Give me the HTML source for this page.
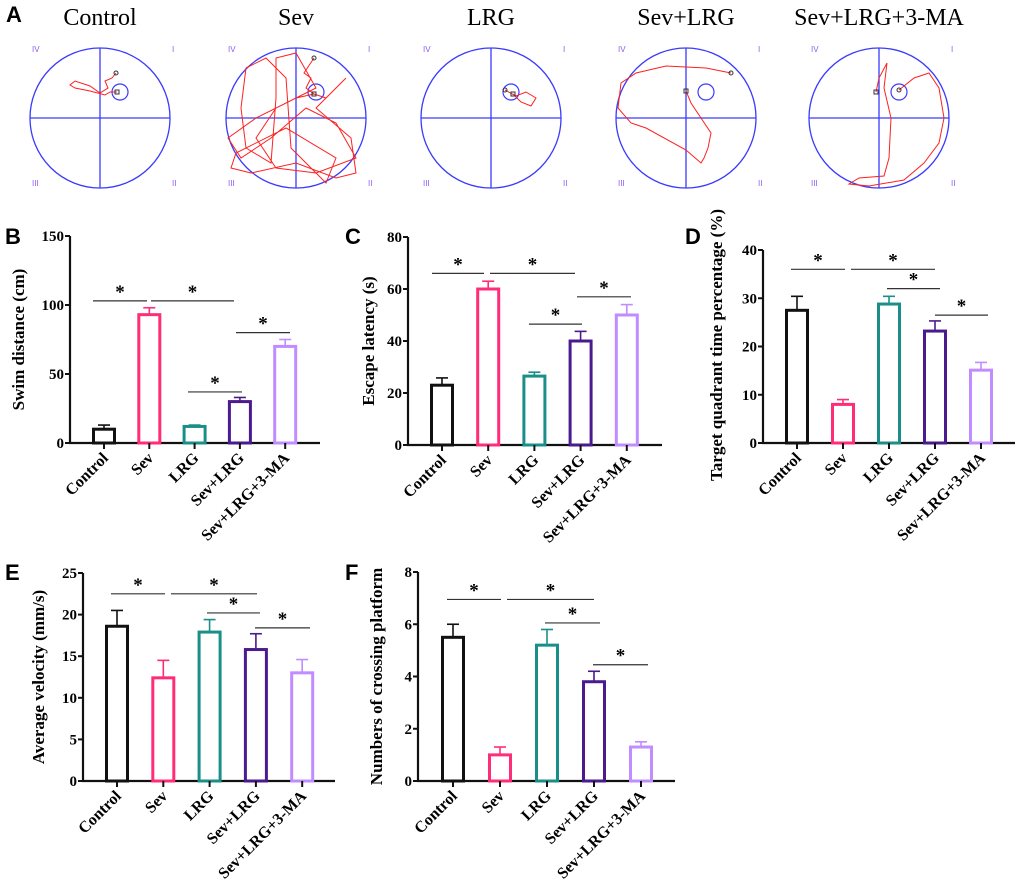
<!DOCTYPE html>
<html><head><meta charset="utf-8"><style>
body{margin:0;background:#fff;}
svg{display:block;font-family:"Liberation Serif",serif;}
</style></head><body>
<svg id="fig" width="1020" height="896" viewBox="0 0 1020 896"></svg>
<script>
const categories=["Control","Sev","LRG","Sev+LRG","Sev+LRG+3-MA"];
const colors=["#111111","#ff2d78","#1a8f8a","#4b1a8f","#c08cff"];
const swimVals=[10,93,12,30,70];
const swimErr=[13,98,13,33,75];
const swimTicks=[0,50,100,150];
const escVals=[23,60,26.5,40,50];
const escErr=[25.8,63,28,43.7,54];
const escTicks=[0,20,40,60,80];
const tqVals=[27.5,8,28.8,23.2,15.1];
const tqErr=[30.4,9,30.4,25.3,16.7];
const tqTicks=[0,10,20,30,40];
const velVals=[18.6,12.4,17.9,15.8,13];
const velErr=[20.5,14.5,19.4,17.7,14.6];
const velTicks=[0,5,10,15,20,25];
const crossVals=[5.5,1,5.2,3.8,1.3];
const crossErr=[6,1.3,5.8,4.2,1.5];
const crossTicks=[0,2,4,6,8];

const NS="http://www.w3.org/2000/svg";
const svg=document.getElementById('fig');
function mk(tag,attrs,parent,text){const e=document.createElementNS(NS,tag);for(const k in attrs)e.setAttribute(k,attrs[k]);if(text!==undefined)e.textContent=text;(parent||svg).appendChild(e);return e;}
const SANS='"Liberation Sans",sans-serif';

// Panel A
const circ=[{cx:100,t:"Control"},{cx:296,t:"Sev"},{cx:491,t:"LRG"},{cx:686,t:"Sev+LRG"},{cx:879,t:"Sev+LRG+3-MA"}];
const tracks=[
 [[16,-45],[12,-40],[5,-37],[8,-30],[0,-25],[-10,-32],[-25,-37],[-30,-33],[-25,-30],[-10,-27],[5,-23],[10,-26],[17,-26]],
 [[18,-60],[8,-45],[15,-40],[10,-30],[18,-24],[0,-20],[-40,0],[-68,20],[-55,40],[-25,20],[10,-10],[40,5],[60,40],[20,55],[-20,50],[-40,20],[-20,-10],[20,-30],[0,-65],[-20,-60],[-20,-20],[-25,45],[-50,30],[-55,-10],[-50,-50],[-30,-60],[-10,-40],[-5,30],[30,65],[40,40],[-10,10],[-60,35],[-65,50],[-45,55],[0,45],[40,60],[60,55],[55,20],[20,-10],[50,-40],[30,-20],[18,-24]],
 [[14,-28],[25,-22],[35,-26],[45,-20],[40,-12],[30,-16],[22,-24]],
 [[45,-45],[20,-50],[-20,-52],[-50,-45],[-65,-35],[-68,-10],[-55,5],[-40,10],[0,32],[15,45],[18,40],[22,30],[25,15],[5,-15],[0,-27]],
 [[20,-28],[35,-40],[50,-45],[60,-30],[65,0],[60,25],[45,45],[25,62],[-10,68],[-30,66],[-20,60],[5,58],[10,40],[12,0],[5,-30],[8,-55],[0,-40],[-3,-26]]
];
const la=mk('text',{x:6,y:22,'font-family':SANS,'font-weight':'bold','font-size':22},svg,'A');


circ.forEach((c,i)=>{
  const g=mk('g',{});
  
  
  mk('text',{x:c.cx,y:25,'text-anchor':'middle','font-size':24},g,c.t);
  const cy=118,r=70;
  mk('circle',{cx:c.cx,cy:cy,r:r,fill:'none',stroke:'#3a3aff','stroke-width':1.3},g);
  mk('line',{x1:c.cx-r,y1:cy,x2:c.cx+r,y2:cy,stroke:'#3a3aff','stroke-width':1.3},g);
  mk('line',{x1:c.cx,y1:cy-r,x2:c.cx,y2:cy+r,stroke:'#3a3aff','stroke-width':1.3},g);
  mk('circle',{cx:c.cx+20,cy:cy-26,r:8,fill:'none',stroke:'#3a3aff','stroke-width':1.2},g);
  const qa={'font-family':SANS,'font-size':8,fill:'#8a5cf0'};
  mk('text',Object.assign({x:c.cx-68,y:52},qa),g,'IV');
  mk('text',Object.assign({x:c.cx+72,y:52},qa),g,'I');
  mk('text',Object.assign({x:c.cx-68,y:186},qa),g,'III');
  mk('text',Object.assign({x:c.cx+72,y:186},qa),g,'II');
  const p=tracks[i].map(q=>(c.cx+q[0])+','+(cy+q[1])).join(' ');
  mk('polyline',{points:p,fill:'none',stroke:'#ff2020','stroke-width':1},g);
  const s=tracks[i][0],e=tracks[i][tracks[i].length-1];
  mk('circle',{cx:c.cx+s[0],cy:cy+s[1],r:2,fill:'none',stroke:'#333'},g);
  mk('rect',{x:c.cx+e[0]-2,y:cy+e[1]-2,width:4,height:4,fill:'none',stroke:'#333'},g);
});

function panel(o){
  const g=mk('g',{});
  
  
  const max=o.ticks[o.ticks.length-1];
  const y=v=>o.y0-(v/max)*(o.y0-o.yTop);
  const xs=i=>o.x0+o.first+i*o.step;
  mk('text',{x:o.lx,y:o.ly,'font-family':SANS,'font-weight':'bold','font-size':22},g,o.letter);
  mk('line',{x1:o.x0,y1:o.yTop,x2:o.x0,y2:o.y0+1,stroke:'#111','stroke-width':2.2},g);
  mk('line',{x1:o.x0-1,y1:o.y0,x2:o.xEnd,y2:o.y0,stroke:'#111','stroke-width':2.2},g);
  o.ticks.forEach(t=>{
    mk('line',{x1:o.x0-5,y1:y(t),x2:o.x0,y2:y(t),stroke:'#111','stroke-width':2},g);
    const tl=mk('text',{x:o.x0-6,y:y(t)+5,'text-anchor':'end','font-weight':'bold','font-size':15},g,t);
    
    
  });
  const yt=mk('text',{transform:`translate(${o.tx},${o.tyc||(o.yTop+o.y0)/2}) rotate(-90)`,'text-anchor':'middle','font-weight':'bold','font-size':17},g,o.title);
  
  
  o.vals.forEach((v,i)=>{
    const cx=xs(i),w=21,c=colors[i];
    mk('line',{x1:cx,y1:y(v),x2:cx,y2:y(o.err[i]),stroke:c,'stroke-width':1.6},g);
    mk('line',{x1:cx-6,y1:y(o.err[i]),x2:cx+6,y2:y(o.err[i]),stroke:c,'stroke-width':1.6},g);
    const b=mk('rect',{x:cx-w/2,y:y(v),width:w,height:o.y0-y(v),fill:'#fff',stroke:c,'stroke-width':3},g);
    
    
    mk('line',{x1:cx,y1:o.y0,x2:cx,y2:o.y0+6,stroke:'#111','stroke-width':2},g);
    const xl=mk('text',{transform:`translate(${cx+5},${o.y0+16}) rotate(-45)`,'text-anchor':'end','font-weight':'bold','font-size':16},g,categories[i]);
    
    
  });
  o.br.forEach(b=>{
    const by=y(b[2]);
    mk('line',{x1:b[0],y1:by,x2:b[1],y2:by,stroke:'#333','stroke-width':1.2},g);
    const s=mk('text',{x:(b[0]+b[1])/2,y:by-3,'text-anchor':'middle','font-weight':'bold','font-size':19},g,'*');
    
    
  });
}
panel({name:'swim-distance-chart',letter:'B',lx:5,ly:244,x0:70,yTop:236,y0:443,xEnd:320,first:34,step:45.3,ticks:swimTicks,vals:swimVals,err:swimErr,tx:24,title:'Swim distance (cm)',
  br:[[93,147,103],[151,234,103],[188,242,37],[236,290,80]]});
panel({name:'escape-latency-chart',letter:'C',lx:345,ly:244,x0:408,yTop:237,y0:445,xEnd:662,first:34,step:46.2,ticks:escTicks,vals:escVals,err:escErr,tx:374,title:'Escape latency (s)',
  br:[[432,484,66],[490,575,66],[529,582,46.5],[577,631,57]]});
panel({name:'target-quadrant-chart',letter:'D',lx:685,ly:244,x0:763,yTop:250,y0:443,xEnd:1015,first:34,step:46,ticks:tqTicks,vals:tqVals,err:tqErr,tx:722,tyc:345,title:'Target quadrant time percentage   (%)',
  br:[[791,845,36],[851,935,36],[887,940,32],[935,988,26.5]]});
panel({name:'average-velocity-chart',letter:'E',lx:5,ly:580,x0:83,yTop:573,y0:781,xEnd:335,first:34,step:46.3,ticks:velTicks,vals:velVals,err:velErr,tx:44,title:'Average velocity  (mm/s)',
  br:[[111,165,22.5],[171,257,22.5],[207,260,20.2],[255,310,18.4]]});
panel({name:'crossing-platform-chart',letter:'F',lx:345,ly:580,x0:418,yTop:572,y0:781,xEnd:675,first:35,step:47,ticks:crossTicks,vals:crossVals,err:crossErr,tx:382,title:'Numbers of crossing platform',
  br:[[447,501,6.95],[507,594,6.95],[545,600,6.05],[593,648,4.45]]});
</script>
</body></html>
